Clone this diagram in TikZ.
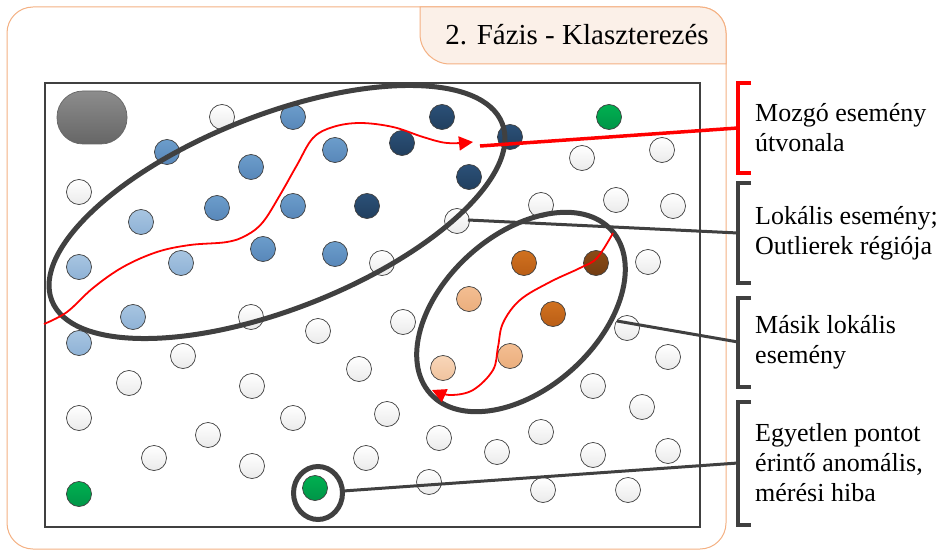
\documentclass[tikz,border=0pt]{standalone}
\usepackage{fontspec}
\setmainfont{Liberation Serif}
\usetikzlibrary{arrows.meta}
\definecolor{dk}{HTML}{404040}
\definecolor{framec}{HTML}{F4B183}
\definecolor{tabfill}{HTML}{FBF0E8}
\definecolor{navyT}{HTML}{2B5077}\definecolor{navyB}{HTML}{213F5F}
\definecolor{mbT}{HTML}{6C9DCB}\definecolor{mbB}{HTML}{5887B9}
\definecolor{lbT}{HTML}{A8C5E1}\definecolor{lbB}{HTML}{8FB2D6}
\definecolor{grT}{HTML}{00B050}\definecolor{grB}{HTML}{009548}
\definecolor{orT}{HTML}{D0711F}\definecolor{orB}{HTML}{BA5E16}
\definecolor{brT}{HTML}{8A4A16}\definecolor{brB}{HTML}{733D12}
\definecolor{loT}{HTML}{F3BE92}\definecolor{loB}{HTML}{EBAE7D}
\definecolor{lloT}{HTML}{F8D6B9}\definecolor{lloB}{HTML}{F0C39E}
\begin{document}
\begin{tikzpicture}[x=1pt,y=-1pt,
  dot/.style={circle, draw=dk, line width=0.7pt, minimum size=25pt, inner sep=0pt},
  wc/.style={dot, top color=white, bottom color=black!8},
  nv/.style={dot, top color=navyT, bottom color=navyB},
  mb/.style={dot, top color=mbT, bottom color=mbB},
  lb/.style={dot, top color=lbT, bottom color=lbB},
  gr/.style={dot, top color=grT, bottom color=grB},
  orc/.style={dot, top color=orT, bottom color=orB},
  brc/.style={dot, top color=brT, bottom color=brB},
  loc/.style={dot, top color=loT, bottom color=loB},
  lloc/.style={dot, top color=lloT, bottom color=lloB},
  cluster/.style={draw=dk, line width=5pt},
  redcurve/.style={draw=red, line width=1.8pt, -{Triangle[length=14pt,width=14pt]}},
  redline/.style={draw=red, line width=3.5pt},
  callout/.style={draw=dk, line width=3pt},
  brk/.style={line width=4pt},
  lbl/.style={font=\fontsize{26}{30}\selectfont, align=left, inner sep=0pt, anchor=west}
]
\useasboundingbox (0,0) rectangle (941,553);
% outer frame
\draw[framec, line width=1pt, fill=white, rounded corners=26pt] (7,7) rectangle (726,549);
% tab
\filldraw[fill=tabfill, draw=framec, line width=1pt] (420,7) -- (700,7) .. controls (714.4,7) and (726,18.6) .. (726,33) -- (726,64) -- (450,64) .. controls (433.4,64) and (420,50.6) .. (420,34) -- cycle;
\node[font=\fontsize{29}{32}\selectfont, anchor=base, inner sep=0pt] (title) at (577,45) {2. Fázis - Klaszterezés};
% main rectangle
\node[draw=dk, line width=2.2pt, fill=white, minimum width=655pt, minimum height=444pt, inner sep=0pt, anchor=north west] (area) at (44,82) {};
% gray rounded block
\node[draw=dk!80, line width=0.7pt, top color=black!45, bottom color=black!60, rounded corners=26pt, minimum width=70pt, minimum height=53pt, inner sep=0pt] (blk) at (92,117.5) {};
% white circles
\foreach \x/\y [count=\i] in {222/117, 79/192, 457/221, 382/263, 251/317, 318/331, 403/322, 582/158, 662/150, 541/205, 616/200, 673/206, 648/262, 627/328, 668/357, 593/386, 642/407, 183/356, 359/369, 129/383, 252/386, 79/418, 293/418, 387/414, 208/435, 439/438, 541/432, 154/458, 252/466, 366/458, 497/452, 593/455, 668/451, 429/482, 543/490, 628/490}
  \node[wc] (w\i) at (\x,\y) {};
% navy
\foreach \x/\y [count=\i] in {442/117, 510/137, 402/143, 469/177, 367/206}
  \node[nv] (n\i) at (\x,\y) {};
% medium blue
\foreach \x/\y [count=\i] in {293/117, 167/152, 335/150, 251/167, 217/208, 293/206, 263/249, 335/254}
  \node[mb] (m\i) at (\x,\y) {};
% light blue
\foreach \x/\y [count=\i] in {141/222, 79/267, 181/263, 133/317, 79/343}
  \node[lb] (l\i) at (\x,\y) {};
% greens
\node[gr] (g1) at (609,117) {};
\node[gr] (g2) at (79,494) {};
\node[gr] (g3) at (315,488) {};
% oranges
\node[orc] (o1) at (524,263) {};
\node[orc] (o2) at (553,314) {};
\node[brc] (o3) at (596,263) {};
\node[loc] (o4) at (469,299) {};
\node[loc] (o5) at (510,356) {};
\node[lloc] (o6) at (443,368) {};
% cluster ellipses
\coordinate (c1) at (277,212);
\coordinate (c2) at (521,312);
\coordinate (c3) at (318,493);
\draw[cluster, rotate around={21.5:(c1)}] (c1) ellipse [x radius=242pt, y radius=97pt];
\draw[cluster, rotate around={42:(c2)}] (c2) ellipse [x radius=122pt, y radius=77pt];
\draw[cluster] (c3) ellipse [x radius=24.5pt, y radius=26.5pt];
% red paths
\draw[redcurve] plot[smooth, tension=0.6] coordinates {(44,324) (67,312) (93,288) (123,267) (157,252) (190,245) (227,242) (247,235) (263,222) (280,195) (297,165) (313,138) (333,127) (360,123) (393,127) (423,137) (447,143) (473,142)};
\draw[redcurve] plot[smooth, tension=0.6] coordinates {(613,233) (597,258) (580,268) (550,282) (520,300) (503,323) (498,347) (493,370) (473,390) (450,395) (432,390)};
% brackets
\coordinate (b1) at (738,128);
\coordinate (b2) at (738,233);
\coordinate (b3) at (738,342);
\coordinate (b4) at (738,463);
\draw[brk, red] (751,83) -- (738,83) -- (738,173) -- (751,173);
\draw[brk, dk] (751,183) -- (738,183) -- (738,283) -- (751,283);
\draw[brk, dk] (751,298) -- (738,298) -- (738,387) -- (751,387);
\draw[brk, dk] (751,402) -- (738,402) -- (738,525) -- (751,525);
% callouts
\coordinate (s1) at (480,146);
\coordinate (s2) at (468,220);
\coordinate (s3) at (617,321);
\coordinate (s4) at (343,491);
\draw[redline] (s1) -- (b1);
\draw[callout] (s2) -- (b2);
\draw[callout] (s3) -- (b3);
\draw[callout] (s4) -- (b4);
% labels
\node[lbl] (t1) at (755,128) {Mozgó esemény\\útvonala};
\node[lbl] (t2) at (755,233) {Lokális esemény;\\Outlierek régiója};
\node[lbl] (t3) at (755,342) {Másik lokális\\esemény};
\node[lbl] (t4) at (755,463) {Egyetlen pontot\\érintő anomális,\\mérési hiba};
\end{tikzpicture}
\end{document}
